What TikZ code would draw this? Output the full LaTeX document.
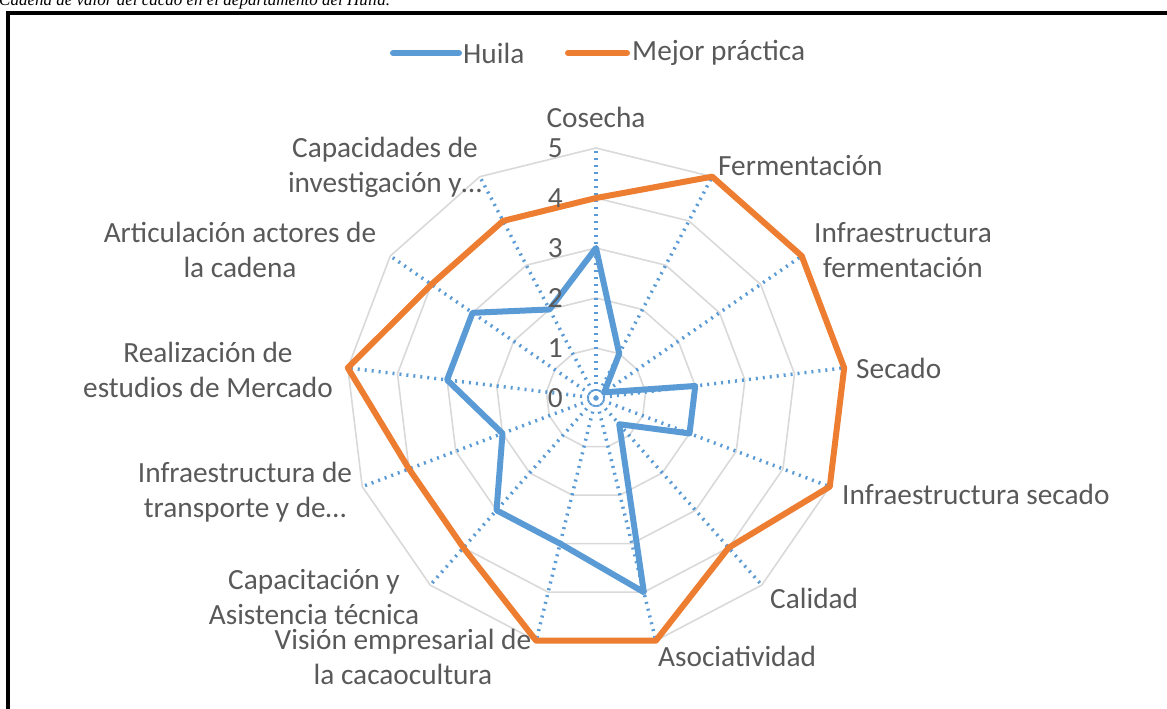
\documentclass[tikz,border=0pt]{standalone}
\usepackage{fontspec}
\setmainfont{Carlito}
\newfontfamily\captionfont{Liberation Serif}
\definecolor{huila_blue}{RGB}{91, 155, 213}
\definecolor{best_orange}{RGB}{237, 125, 49}
\definecolor{grid_gray}{RGB}{217, 217, 217}
\definecolor{text_gray}{RGB}{89, 89, 89}
\tikzstyle{ring} = [draw=grid_gray, line width=1.6pt]
\tikzstyle{spoke} = [draw=huila_blue, line width=3.5pt, dash pattern=on 2pt off 5pt]
\tikzstyle{series} = [line width=6pt, line join=round]
\tikzstyle{axlabel} = [text=text_gray, font=\fontsize{29.3}{35}\selectfont, align=center, inner sep=0pt]
\tikzstyle{tick} = [text=text_gray, font=\fontsize{29.3}{35}\selectfont, anchor=east, inner sep=0pt]

\begin{document}
\begin{tikzpicture}[x=1pt, y=1pt]
    \useasboundingbox (0,0) rectangle (1167,-709);
    \node (caption) [anchor=base west, inner sep=0pt, font=\captionfont\itshape\fontsize{17}{20}\selectfont] at (-1,-5.5) {Cadena de valor del cacao en el departamento del Huila.};
    \draw [line width=3.5pt] (8,-13) rectangle (1180,-720);

    % legend
    \coordinate (huilastart) at (393,-53);
    \coordinate (huilaend) at (459,-53);
    \coordinate (beststart) at (568,-53);
    \coordinate (bestend) at (627,-53);
    \draw [series, huila_blue, line cap=round] (huilastart) -- (huilaend);
    \draw [series, best_orange, line cap=round] (beststart) -- (bestend);
    \node (huilalabel) [axlabel, anchor=west] at (463,-53) {Huila};
    \node (bestlabel) [axlabel, anchor=west] at (632,-53) {Mejor práctica};

    \begin{scope}[shift={(596,-398)}, x=50pt, y=50pt]
        % grid
        \foreach \r in {1,...,5}
            \draw [ring] (90:\r) \foreach \k in {1,...,12} { -- ({90-\k*360/13}:\r) } -- cycle;
        \foreach \k in {0,...,12}
            \draw [spoke] (0,0) -- ({90-\k*360/13}:5);

        % data
        \draw [series, best_orange] (90:4) \foreach \v [count=\k] in {5,5,5,5,4,5,5,4,4,5,4,4} { -- ({90-\k*360/13}:\v) } -- cycle;
        \draw [series, huila_blue] (90:3) \foreach \v [count=\k] in {1,0.2,2,2,0.7,4,3,3,2,3,3,2} { -- ({90-\k*360/13}:\v) } -- cycle;

        \foreach \t in {0,...,5}
            \node (tick\t) [tick] at (-0.66,\t) {\t};

        % axis labels
        \node (cosecha) [axlabel] at (0,5.62) {Cosecha};
        \node (fermentacion) [axlabel, anchor=west] at (2.44,4.64) {Fermentación};
        \node (infraferm) [axlabel] at (6.14,2.96) {Infraestructura\\fermentación};
        \node (secado) [axlabel, anchor=west] at (5.2,0.6) {Secado};
        \node (infrasecado) [axlabel, anchor=west] at (4.92,-1.92) {Infraestructura secado};
        \node (calidad) [axlabel, anchor=west] at (3.48,-4.0) {Calidad};
        \node (asociatividad) [axlabel, anchor=west] at (1.24,-5.16) {Asociatividad};
        \node (vision) [axlabel] at (-3.86,-5.18) {Visión empresarial de\\la cacaocultura};
        \node (capacitacion) [axlabel] at (-5.64,-3.98) {Capacitación y\\Asistencia técnica};
        \node (transporte) [axlabel] at (-7.02,-1.88) {Infraestructura de\\transporte y de…};
        \node (mercado) [axlabel] at (-7.76,0.56) {Realización de\\estudios de Mercado};
        \node (articulacion) [axlabel] at (-7.12,2.96) {Articulación actores de\\la cadena};
        \node (investigacion) [axlabel] at (-4.22,4.62) {Capacidades de\\investigación y…};
    \end{scope}
\end{tikzpicture}
\end{document}
